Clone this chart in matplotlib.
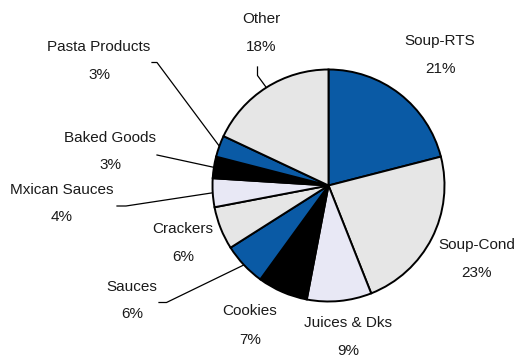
import numpy as np
import matplotlib
matplotlib.use("Agg")
import matplotlib.pyplot as plt

categories = ["Soup-RTS", "Soup-Cond", "Juices & Dks", "Cookies", "Sauces",
              "Crackers", "Mxican Sauces", "Baked Goods", "Pasta Products", "Other"]
shares = [21, 23, 9, 7, 6, 6, 4, 3, 3, 18]

BLUE = "#0A5AA5"
GRAY = "#E6E6E6"
LAV = "#E8E8F5"
colors = [BLUE, GRAY, LAV, "black", BLUE, GRAY, LAV, "black", BLUE, GRAY]

W, H = 517, 358
fig = plt.figure(figsize=(W / 100, H / 100), dpi=100)
ax = fig.add_axes([0, 0, 1, 1])

cx, cy, r = 328.5, H - 185.5, 116
wedges, _ = ax.pie(shares, colors=colors, startangle=90, counterclock=False,
                   center=(cx, cy), radius=r, frame=True,
                   wedgeprops=dict(edgecolor="black", linewidth=1.4))
ax.set_xlim(0, W)
ax.set_ylim(0, H)
ax.set_aspect("equal")
ax.axis("off")

# label placement (pixel coords from top-left): name centre, pct centre
label_pos = {
    "Soup-RTS": (440, 41, 69),
    "Soup-Cond": (477, 245, 273),
    "Juices & Dks": (348, 323, 351),
    "Cookies": (250, 311, 340),
    "Sauces": (132, 287, 314),
    "Crackers": (183, 229, 257),
    "Mxican Sauces": (62, 190, 217),
    "Baked Goods": (110, 138, 165),
    "Pasta Products": (99, 47, 75),
    "Other": (261, 19, 47),
}

# leader lines: polyline start points on the text side (pixel coords)
leaders = {
    "Pasta Products": [(152, 62.5), (157, 62.5)],
    "Baked Goods": [(157, 155)],
    "Mxican Sauces": [(117, 206), (126, 206)],
    "Sauces": [(159, 302.5), (166.5, 302.5)],
    "Other": [(257.5, 67), (257.5, 75.5)],
}

font = dict(family=["Liberation Sans", "DejaVu Sans"], fontsize=11, color="#1a1a1a")

for w, name, val in zip(wedges, categories, shares):
    x, y1, y2 = label_pos[name]
    ax.text(x, H - y1, name, ha="center", va="center", **font)
    ax.text(x, H - y2, f"{val}%", ha="center", va="center", **font)
    if name in leaders:
        mid = np.deg2rad((w.theta1 + w.theta2) / 2)
        ex, ey = cx + r * np.cos(mid), cy + r * np.sin(mid)
        pts = [(px, H - py) for px, py in leaders[name]] + [(ex, ey)]
        xs, ys = zip(*pts)
        ax.plot(xs, ys, color="black", linewidth=0.9, zorder=0)

fig.savefig("out.png", dpi=100)
